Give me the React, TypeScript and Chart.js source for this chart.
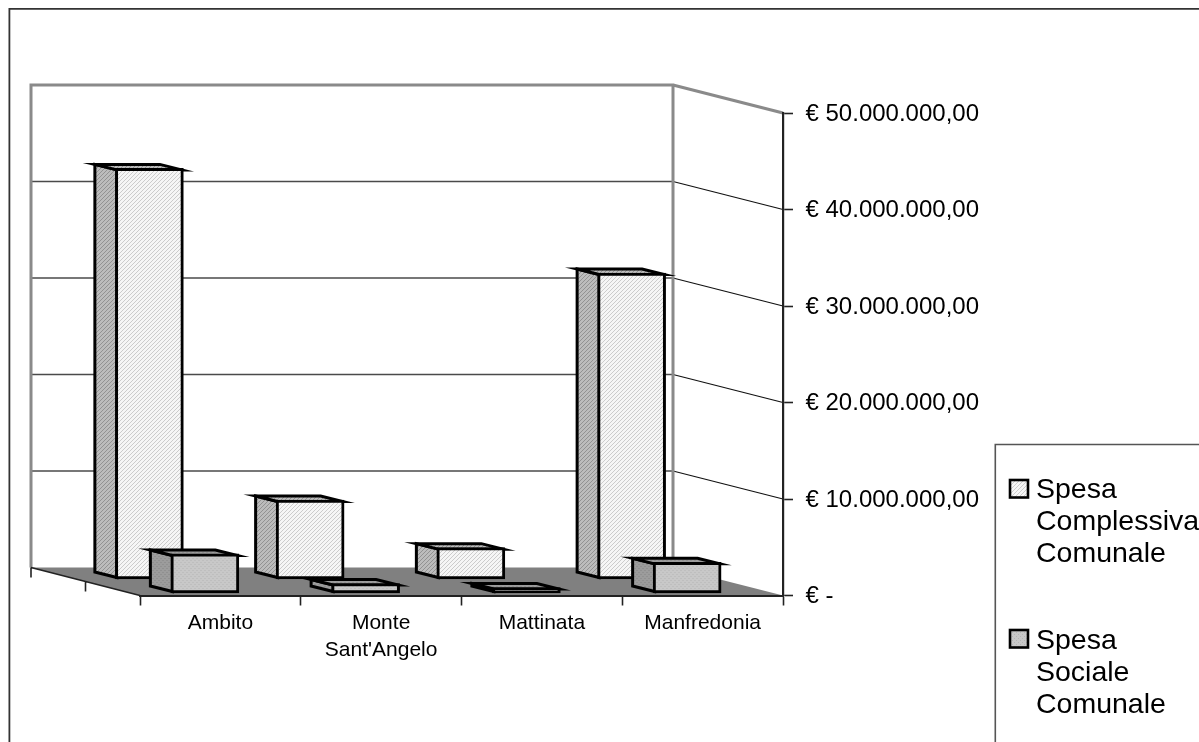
import React, { useEffect, useRef } from "react";
import { Chart, registerables } from "chart.js";

Chart.register(...registerables);

// Chart data
const categories = ["Ambito", ["Monte", "Sant'Angelo"], "Mattinata", "Manfredonia"];
const spesaComplessiva = [42600000, 8240000, 3300000, 31760000];
const spesaSociale = [4100000, 1040000, 620000, 3230000];
const seriesNames = ["Spesa Complessiva Comunale", "Spesa Sociale Comunale"];
const legendLines = [
  ["Spesa", "Complessiva", "Comunale"],
  ["Spesa", "Sociale", "Comunale"],
];

const FONT = '"Liberation Sans", Arial, sans-serif';
const CANVAS_W = 1199;
const CANVAS_H = 742;

// Projection of the floor depth, and of one bar's own depth
const DEPTH = { dx: -110, dy: -28 };
const BAR_DEPTH = { dx: -22, dy: -5.5 };
const BAR_LINE = 3;
// Where each series' row sits on the floor
const ROWS = [
  { dx: -71, dy: -16 },
  { dx: -15.5, dy: -2 },
];

function tile(base: string, ink: string, cells: number[][], size = 4) {
  const c = document.createElement("canvas");
  c.width = size;
  c.height = size;
  const g = c.getContext("2d")!;
  g.fillStyle = base;
  g.fillRect(0, 0, size, size);
  g.fillStyle = ink;
  cells.forEach(([x, y]) => g.fillRect(x, y, 1, 1));
  return g.createPattern(c, "repeat")!;
}

const DIAGONAL = [
  [3, 0],
  [2, 1],
  [1, 2],
  [0, 3],
];
const DOTS = [
  [0, 0],
  [2, 2],
];

function formatEuro(v: number) {
  if (v === 0) return "€ -";
  const whole = String(Math.round(v)).replace(/\B(?=(\d{3})+(?!\d))/g, ".");
  return `€ ${whole},00`;
}

function App() {
  const ref = useRef<HTMLCanvasElement>(null);

  useEffect(() => {
    const frontFills = [tile("#f6f6f6", "#cccccc", DIAGONAL), tile("#c8c8c8", "#b4b4b4", DOTS)];
    const sideFills = [tile("#bcbcbc", "#929292", DIAGONAL), tile("#9c9c9c", "#848484", DOTS)];

    // Back wall, floor, gridlines, depth axis and outer frames
    const scenery = {
      id: "scenery",
      beforeDraw(chart: any) {
        const { ctx, scales } = chart;
        const x = scales.x;
        const y = scales.y;
        const base = y.getPixelForValue(0);
        const top = y.getPixelForValue(50000000);
        const wallL = x.left + DEPTH.dx + 1;
        const wallR = x.right + DEPTH.dx;
        ctx.save();

        // chart frame
        ctx.strokeStyle = "#333333";
        ctx.lineWidth = 1.8;
        ctx.beginPath();
        ctx.moveTo(9.4, CANVAS_H);
        ctx.lineTo(9.4, 8.9);
        ctx.lineTo(CANVAS_W, 8.9);
        ctx.stroke();

        // gridlines across the wall and down the side
        y.ticks.forEach((t: any) => {
          if (t.value === 0 || t.value === 50000000) return;
          const py = y.getPixelForValue(t.value);
          ctx.strokeStyle = "#4a4a4a";
          ctx.lineWidth = 1.5;
          ctx.beginPath();
          ctx.moveTo(wallL, py + DEPTH.dy);
          ctx.lineTo(wallR, py + DEPTH.dy);
          ctx.stroke();
          ctx.strokeStyle = "#111111";
          ctx.lineWidth = 1.2;
          ctx.beginPath();
          ctx.moveTo(wallR, py + DEPTH.dy);
          ctx.lineTo(x.right, py);
          ctx.stroke();
        });

        // floor
        ctx.fillStyle = "#808080";
        ctx.beginPath();
        ctx.moveTo(wallL, base + DEPTH.dy);
        ctx.lineTo(wallR, base + DEPTH.dy);
        ctx.lineTo(x.right, base);
        ctx.lineTo(x.left, base);
        ctx.closePath();
        ctx.fill();

        // wall outline
        ctx.strokeStyle = "#8a8a8a";
        ctx.lineWidth = 3;
        ctx.lineJoin = "miter";
        ctx.beginPath();
        ctx.moveTo(wallL, base + DEPTH.dy);
        ctx.lineTo(wallL, top + DEPTH.dy);
        ctx.lineTo(wallR, top + DEPTH.dy);
        ctx.lineTo(wallR, base + DEPTH.dy);
        ctx.moveTo(wallR, top + DEPTH.dy);
        ctx.lineTo(x.right, top);
        ctx.stroke();

        // depth axis with its ticks
        ctx.strokeStyle = "#222222";
        ctx.lineWidth = 1.6;
        ctx.beginPath();
        ctx.moveTo(wallL, base + DEPTH.dy);
        ctx.lineTo(x.left, base);
        [0, 0.5].forEach((f) => {
          const tx = wallL + (x.left - wallL) * f;
          const ty = base + DEPTH.dy * (1 - f);
          ctx.moveTo(tx, ty);
          ctx.lineTo(tx, ty + 10);
        });
        ctx.stroke();
        ctx.restore();
      },
      // value labels sit a little lower than the library's centring
      afterLayout(chart: any) {
        chart.scales.y.getLabelItems().forEach((item: any) => {
          item.options.translation = [item.options.translation[0], item.options.translation[1] + 1];
        });
      },
    };

    // The bar body behind each front face; the front itself is the library's own bar
    const solids = {
      id: "solids",
      beforeDatasetDraw(chart: any, args: any) {
        const { ctx } = chart;
        const row = ROWS[args.index];
        ctx.save();
        ctx.translate(row.dx, row.dy);
        const half = BAR_LINE / 2;
        args.meta.data.forEach((bar: any) => {
          const p = bar.getProps(["x", "y", "base", "width"], true);
          const l = p.x - p.width / 2 + half;
          const r = p.x + p.width / 2 - half;
          const t = p.y + half;
          const b = p.base - half;
          const ox = BAR_DEPTH.dx;
          const oy = BAR_DEPTH.dy;
          ctx.lineWidth = BAR_LINE;
          ctx.strokeStyle = "#000000";
          ctx.lineJoin = "miter";
          ctx.miterLimit = 10;
          ctx.fillStyle = sideFills[args.index];
          // left side
          ctx.beginPath();
          ctx.moveTo(l, t);
          ctx.lineTo(l + ox, t + oy);
          ctx.lineTo(l + ox, b + oy);
          ctx.lineTo(l, b);
          ctx.closePath();
          ctx.fill();
          ctx.stroke();
          // top
          ctx.beginPath();
          ctx.moveTo(l, t);
          ctx.lineTo(l + ox, t + oy);
          ctx.lineTo(r + ox, t + oy);
          ctx.lineTo(r, t);
          ctx.closePath();
          ctx.fill();
          ctx.stroke();
        });
      },
      afterDatasetDraw(chart: any) {
        chart.ctx.restore();
      },
    };

    // Boxed key at the right edge, with wrapped series names
    const keyBox = {
      id: "keyBox",
      afterDraw(chart: any) {
        const { ctx } = chart;
        ctx.save();
        ctx.strokeStyle = "#555555";
        ctx.lineWidth = 1.6;
        ctx.beginPath();
        ctx.moveTo(995.3, CANVAS_H);
        ctx.lineTo(995.3, 444.5);
        ctx.lineTo(CANVAS_W, 444.5);
        ctx.stroke();
        const swatchY = [480, 630];
        const textY = [498, 648.5];
        legendLines.forEach((lines, i) => {
          ctx.fillStyle = frontFills[i];
          ctx.fillRect(1010, swatchY[i], 18, 17.5);
          ctx.strokeStyle = "#000000";
          ctx.lineWidth = 2.6;
          ctx.strokeRect(1010, swatchY[i], 18, 17.5);
          ctx.fillStyle = "#000000";
          ctx.font = `28.5px ${FONT}`;
          ctx.textBaseline = "alphabetic";
          ctx.textAlign = "left";
          lines.forEach((line, k) => ctx.fillText(line, 1036, textY[i] + k * 32));
        });
        ctx.restore();
      },
    };

    const makeSeries = (label: string, data: number[], i: number) => ({
      label,
      data,
      backgroundColor: frontFills[i],
      borderColor: "#000000",
      borderWidth: BAR_LINE,
      borderSkipped: false,
      barThickness: 68,
      grouped: false,
      clip: false,
      order: 2 - i,
    });

    const chart = new Chart(ref.current!, {
      type: "bar",
      data: {
        labels: categories,
        datasets: [
          makeSeries(seriesNames[0], spesaComplessiva, 0),
          makeSeries(seriesNames[1], spesaSociale, 1),
        ],
      },
      options: {
        responsive: false,
        animation: false,
        layout: { padding: { left: 140, top: 113, right: 0, bottom: 0 } },
        plugins: { legend: { display: false }, tooltip: { enabled: false }, title: { display: false } },
        scales: {
          x: {
            grid: { drawOnChartArea: false, tickLength: 10, tickColor: "#222222", tickWidth: 1.6 },
            border: { color: "#222222", width: 2 },
            ticks: {
              color: "#000000",
              font: { family: FONT, size: 21, lineHeight: 1.29 },
              maxRotation: 0,
              autoSkip: false,
              padding: 4,
            },
            afterFit: (s: any) => {
              s.height = 146.5;
            },
          },
          y: {
            position: "right",
            min: 0,
            max: 50000000,
            grid: { drawOnChartArea: false, tickLength: 10, tickColor: "#222222", tickWidth: 1.6 },
            border: { color: "#222222", width: 2.2 },
            ticks: {
              stepSize: 10000000,
              color: "#000000",
              font: { family: FONT, size: 24 },
              padding: 12.5,
              callback: (v: any) => formatEuro(Number(v)),
            },
            afterFit: (s: any) => {
              s.width = 416;
            },
          },
        },
      },
      plugins: [scenery, solids, keyBox],
    } as any);
    return () => chart.destroy();
  }, []);

  return (
    <canvas
      ref={ref}
      width={CANVAS_W}
      height={CANVAS_H}
      style={{ display: "block", position: "fixed", left: 0, top: 0 }}
    />
  );
}

export default App;
